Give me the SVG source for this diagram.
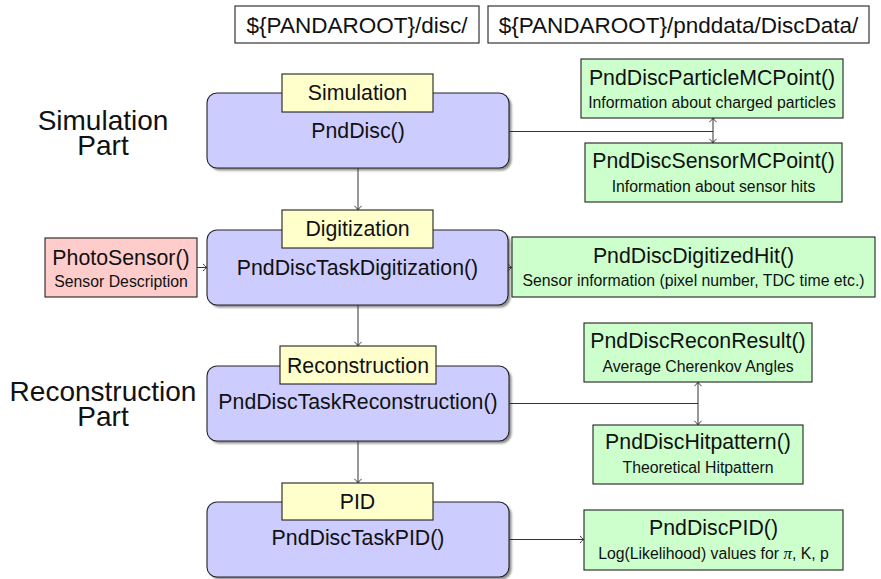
<svg xmlns="http://www.w3.org/2000/svg" width="881" height="579" viewBox="0 0 881 579">
  <defs>
    <style>
      .frame { stroke: #222; stroke-width: 1.1; }
      .task { fill: #ccccff; }
      .tag { fill: #ffffcc; }
      .out { fill: #ccffcc; }
      .in { fill: #ffcccc; }
      .dir { fill: #ffffff; }
      .shadow { fill: #000; opacity: 0.45; filter: url(#soft); }
      text { font-family: "Liberation Sans", Arial, sans-serif; fill: #111; text-anchor: middle; }
      .t { font-size: 21.3px; }
      .s { font-size: 15.8px; }
      .part { font-size: 28px; }
      .p { font-size: 22.5px; }
      .wire { fill: none; stroke: #333; stroke-width: 1; }
      .arrow { marker-end: url(#tip); }
      .both { marker-start: url(#tip); marker-end: url(#tip); }
    </style>
    <filter id="soft" x="-10%" y="-20%" width="120%" height="140%">
      <feGaussianBlur stdDeviation="1.3"/>
    </filter>
    <marker id="tip" viewBox="-6 -5 8 10" markerWidth="8" markerHeight="10" refX="0" refY="0" orient="auto-start-reverse" markerUnits="userSpaceOnUse" overflow="visible">
      <path d="M-3.8,-3.6 C-2.6,-1.6 -1.1,-0.4 0,0 C-1.1,0.4 -2.6,1.6 -3.8,3.6" fill="none" stroke="#333" stroke-width="1"/>
    </marker>
  </defs>

  <rect width="881" height="579" fill="#ffffff"/>

  <!-- source directories -->
  <g id="dir-disc">
    <rect class="frame dir" x="235" y="6" width="244" height="37"/>
    <text class="p" x="357" y="33">${PANDAROOT}/disc/</text>
  </g>
  <g id="dir-data">
    <rect class="frame dir" x="488" y="6" width="381" height="37"/>
    <text class="p" x="678.5" y="33">${PANDAROOT}/pnddata/DiscData/</text>
  </g>

  <!-- part captions -->
  <g id="caption-sim">
    <text class="part" x="103" y="130">Simulation</text>
    <text class="part" x="103" y="155">Part</text>
  </g>
  <g id="caption-reco">
    <text class="part" x="103" y="401">Reconstruction</text>
    <text class="part" x="103" y="426">Part</text>
  </g>

  <!-- task nodes -->
  <g id="task-simulation">
    <rect class="shadow" x="209.5" y="95.5" width="302" height="75" rx="10"/>
    <rect class="frame task" x="207" y="93" width="302" height="75" rx="10"/>
    <rect class="frame tag" x="282" y="74" width="151" height="38"/>
    <text class="t" x="357.5" y="100">Simulation</text>
    <text class="t" x="358" y="138">PndDisc()</text>
  </g>
  <g id="task-digitization">
    <rect class="shadow" x="209.5" y="232.5" width="301" height="75" rx="10"/>
    <rect class="frame task" x="207" y="230" width="301" height="75" rx="10"/>
    <rect class="frame tag" x="282" y="210" width="151" height="38"/>
    <text class="t" x="357.5" y="236">Digitization</text>
    <text class="t" x="357.5" y="275">PndDiscTaskDigitization()</text>
  </g>
  <g id="task-reconstruction">
    <rect class="shadow" x="209.5" y="368.5" width="302" height="75" rx="10"/>
    <rect class="frame task" x="207" y="366" width="302" height="75" rx="10"/>
    <rect class="frame tag" x="280" y="346" width="156" height="38"/>
    <text class="t" x="358" y="372.5">Reconstruction</text>
    <text class="t" x="358" y="409">PndDiscTaskReconstruction()</text>
  </g>
  <g id="task-pid">
    <rect class="shadow" x="209.5" y="504.5" width="302" height="75" rx="10"/>
    <rect class="frame task" x="207" y="502" width="302" height="75" rx="10"/>
    <rect class="frame tag" x="282" y="483" width="151" height="37"/>
    <text class="t" x="357.5" y="509">PID</text>
    <text class="t" x="358" y="545">PndDiscTaskPID()</text>
  </g>

  <!-- input -->
  <g id="photosensor">
    <rect class="frame in" x="45" y="238" width="152" height="59"/>
    <text class="t" x="121" y="265">PhotoSensor()</text>
    <text class="s" x="121" y="287">Sensor Description</text>
  </g>

  <!-- output containers -->
  <g id="particle-mcpoint">
    <rect class="frame out" x="581" y="59" width="262" height="59"/>
    <text class="t" x="712" y="85">PndDiscParticleMCPoint()</text>
    <text class="s" x="712" y="108">Information about charged particles</text>
  </g>
  <g id="sensor-mcpoint">
    <rect class="frame out" x="585" y="143" width="257" height="59"/>
    <text class="t" x="713.5" y="168">PndDiscSensorMCPoint()</text>
    <text class="s" x="713.5" y="192">Information about sensor hits</text>
  </g>
  <g id="digitized-hit">
    <rect class="frame out" x="512" y="237" width="363" height="60"/>
    <text class="t" x="693.5" y="263">PndDiscDigitizedHit()</text>
    <text class="s" x="693.5" y="286">Sensor information (pixel number, TDC time etc.)</text>
  </g>
  <g id="recon-result">
    <rect class="frame out" x="584" y="323" width="228" height="59"/>
    <text class="t" x="698" y="348">PndDiscReconResult()</text>
    <text class="s" x="698" y="372">Average Cherenkov Angles</text>
  </g>
  <g id="hitpattern">
    <rect class="frame out" x="593" y="425" width="210" height="59"/>
    <text class="t" x="698" y="449">PndDiscHitpattern()</text>
    <text class="s" x="698" y="473">Theoretical Hitpattern</text>
  </g>
  <g id="pid-result">
    <rect class="frame out" x="584" y="510" width="259" height="60"/>
    <text class="t" x="713.5" y="535">PndDiscPID()</text>
    <text class="s" x="713.5" y="559">Log(Likelihood) values for <tspan font-family="'Liberation Serif', serif" font-style="italic" font-size="17px">π</tspan>, K, p</text>
  </g>

  <!-- connectors -->
  <g id="connectors">
    <path class="wire" d="M509,131.5 H713"/>
    <path class="wire both" d="M713,118 V143"/>
    <path class="wire arrow" d="M358,168 V210"/>
    <path class="wire arrow" d="M197,267.5 H207"/>
    <path class="wire arrow" d="M508,267.5 H512"/>
    <path class="wire arrow" d="M358,305 V346"/>
    <path class="wire" d="M509,403.5 H698"/>
    <path class="wire both" d="M698,382 V425"/>
    <path class="wire arrow" d="M358,441 V483"/>
    <path class="wire arrow" d="M509,539.5 H584"/>
  </g>
</svg>
